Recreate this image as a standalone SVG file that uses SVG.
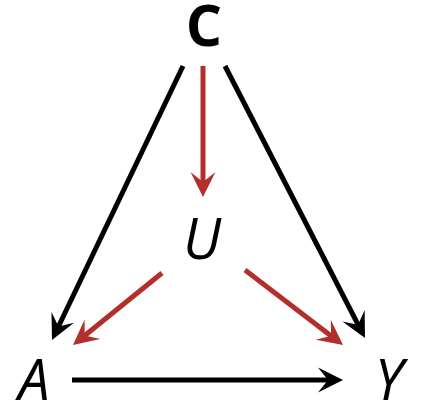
<svg xmlns="http://www.w3.org/2000/svg" width="421" height="403" viewBox="0 0 421 403">
<style>
.lbl{font-family:"Open Sans","Liberation Sans",sans-serif;fill:#000;text-anchor:middle}
.it{font-style:italic;font-size:56px}
.bd{font-weight:bold;font-size:57px}
.k{stroke:#000;stroke-width:5;fill:none}
.r{stroke:#b22f2c;stroke-width:5;fill:none}
</style>
<defs>
<marker id="ak" markerUnits="userSpaceOnUse" orient="auto" refX="0" refY="0" markerWidth="40" markerHeight="40" viewBox="-20 -20 40 40" overflow="visible">
<path d="M10,0 L-15,-12.5 L-5,0 L-15,12.5 Z" fill="#000"/>
</marker>
<marker id="ar" markerUnits="userSpaceOnUse" orient="auto" refX="0" refY="0" markerWidth="40" markerHeight="40" viewBox="-20 -20 40 40" overflow="visible">
<path d="M10,0 L-15,-12.5 L-5,0 L-15,12.5 Z" fill="#b22f2c"/>
</marker>
</defs>
<g id="connectors">
<line class="k" x1="183" y1="66" x2="56.3" y2="331" marker-end="url(#ak)"/>
<line class="k" x1="225" y1="66" x2="360.4" y2="329.1" marker-end="url(#ak)"/>
<line class="r" x1="203" y1="66" x2="203" y2="187" marker-end="url(#ar)"/>
<line class="r" x1="162" y1="273" x2="80.8" y2="338.7" marker-end="url(#ar)"/>
<line class="r" x1="245" y1="270" x2="335.1" y2="338.9" marker-end="url(#ar)"/>
<line class="k" x1="72" y1="380" x2="333" y2="380" marker-end="url(#ak)"/>
</g>
<g id="C"><text class="lbl bd" x="204" y="46">C</text></g>
<g id="U"><text class="lbl it" x="202" y="259">U</text></g>
<g id="A"><text class="lbl it" x="34" y="400">A</text></g>
<g id="Y"><text class="lbl it" x="389" y="400">Y</text></g>
</svg>
